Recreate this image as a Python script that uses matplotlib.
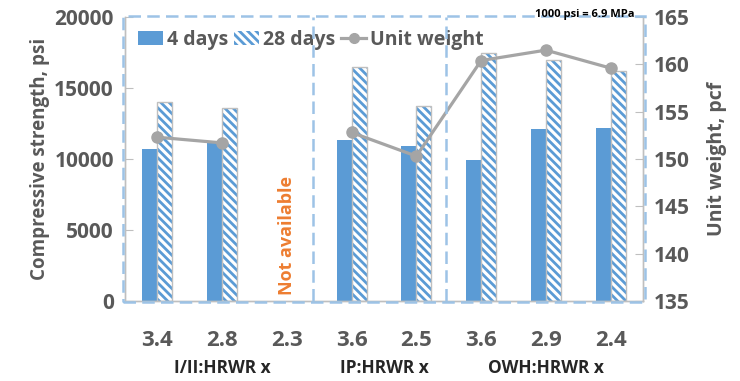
"""Compressive strength and unit weight by mix and HRWR dosage"""

import numpy as np
import matplotlib
matplotlib.use('Agg')
import matplotlib.pyplot as plt
from matplotlib.patches import Rectangle, Patch
from matplotlib.lines import Line2D

plt.rcParams['font.family'] = ['Open Sans', 'DejaVu Sans']
plt.rcParams['font.weight'] = 'bold'
plt.rcParams['axes.labelweight'] = 'bold'
plt.rcParams['hatch.linewidth'] = 2.0

# HRWR dosage per mix, grouped by cement type
dosage = ['3.4', '2.8', '2.3', '3.6', '2.5', '3.6', '2.9', '2.4']
groups = ['I/II:HRWR x', 'IP:HRWR x', 'OWH:HRWR x']
group_members = [[0, 1, 2], [3, 4], [5, 6, 7]]

strength_4d = [10700, 11200, np.nan, 11350, 10900, 9900, 12100, 12200]
strength_28d = [14000, 13600, np.nan, 16500, 13750, 17450, 17000, 16200]
unit_weight = [152.3, 151.7, np.nan, 152.8, 150.3, 160.4, 161.5, 159.6]

BLUE = '#5B9BD5'
DASH = '#9DC3E6'
GREY_TXT = '#595959'
AXIS = '#BFBFBF'

fig = plt.figure(figsize=(7.4, 3.81), dpi=100)
ax = fig.add_axes([125 / 740, 80 / 381, 518 / 740, 284 / 381])
ax2 = ax.twinx()

x = np.arange(len(dosage))
w = 0.23
ax.bar(x - w / 2, strength_4d, w, color=BLUE, linewidth=0)
ax.bar(x + w / 2, strength_28d, w, color='white', edgecolor=BLUE,
       hatch='\\\\\\\\', linewidth=0)
ax.bar(x + w / 2, strength_28d, w, fill=False, edgecolor=AXIS, linewidth=1.0)

ax2.plot(x, unit_weight, color='#A5A5A5', linewidth=2.3, marker='o',
         markersize=8, zorder=5)

ax.set_xlim(-0.5, len(dosage) - 0.5)
ax.set_ylim(0, 20000)
ax.set_yticks([0, 5000, 10000, 15000, 20000])
ax2.set_ylim(135, 165)
ax2.set_yticks(range(135, 166, 5))

for a in (ax, ax2):
    for s in a.spines.values():
        s.set_color(AXIS)
        s.set_linewidth(1.0)
    a.spines['top'].set_visible(False)
    a.tick_params(axis='y', direction='in', length=6, color=AXIS,
                  labelsize=15, labelcolor=GREY_TXT, pad=8)

ax.set_xticks(x)
ax.set_xticklabels(dosage)
ax.tick_params(axis='x', length=0, labelsize=16, labelcolor=GREY_TXT, pad=21)

ax.set_ylabel('Compressive strength, psi', fontsize=13.5, color=GREY_TXT,
              labelpad=3)
ax2.set_ylabel('Unit weight, pcf', fontsize=14, color=GREY_TXT, labelpad=12)

# mix group names under the dosage labels
for name, members in zip(groups, group_members):
    ax.text(np.mean(members), -0.236, name, transform=ax.get_xaxis_transform(),
            ha='center', va='center', fontsize=12.5, color='#262626')

ax.text(2, 4600, 'Not available', rotation=90, ha='center', va='center',
        fontsize=13, color='#ED7D31')

# dashed frames around each cement type
dash = dict(edgecolor=DASH, facecolor='none', linewidth=1.8,
            linestyle=(0, (5, 2.5)), clip_on=False, zorder=6)
ax2.add_patch(Rectangle((-0.004, -0.004), 1.008, 1.008,
                        transform=ax2.transAxes, **dash))
for xd in (2.4, 4.45):
    ax2.plot([xd, xd], [135, 165], color=DASH, linewidth=1.8,
             linestyle=(0, (5, 2.5)), clip_on=False, zorder=6)

handles = [Patch(facecolor=BLUE, linewidth=0),
           Patch(facecolor='white', edgecolor=BLUE, hatch='\\\\\\\\', linewidth=0),
           Line2D([], [], color='#A5A5A5', linewidth=2.3, marker='o', markersize=7)]
leg = ax2.legend(handles, ['4 days', '28 days', 'Unit weight'], ncol=3,
                 loc='upper left', bbox_to_anchor=(0.0, 1.0), frameon=False,
                 fontsize=14, handlelength=1.3, handleheight=0.75,
                 handletextpad=0.2, columnspacing=0.3, borderaxespad=0.25)
for t in leg.get_texts():
    t.set_color(GREY_TXT)

fig.text(585 / 740, 1 - 14 / 381, '1000 psi = 6.9 MPa', ha='center',
         va='center', fontsize=8, color='black')

fig.savefig('out.png', dpi=100)
